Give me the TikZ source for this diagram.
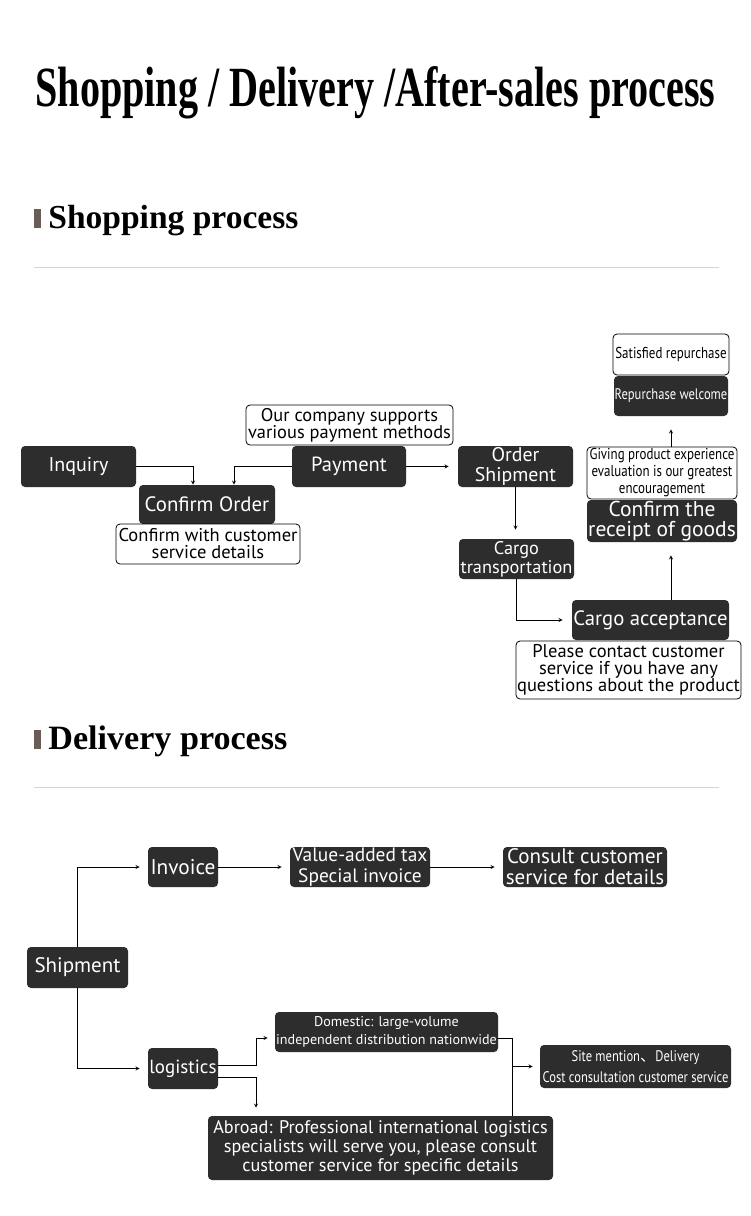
\documentclass[tikz,border=0pt]{standalone}
\usepackage{fontspec}
\usepackage{graphicx}
\newfontfamily\boxfont{PT Sans}
\newfontfamily\condfont[FakeStretch=0.82]{PT Sans}
\newfontfamily\headfont{Liberation Serif}
\newfontfamily\cjk{Noto Sans CJK SC}
\definecolor{boxgray}{RGB}{45,45,45}
\definecolor{rulegray}{RGB}{212,212,212}
\definecolor{barbrown}{RGB}{107,93,85}
\newcommand{\fs}[2]{\fontsize{#1}{#2}\selectfont}

\begin{document}
\begin{tikzpicture}[x=1pt, y=-1pt, line width=0.8pt,
    blk/.style={fill=boxgray, text=white, rounded corners=4pt, inner sep=0pt, align=center, font=\boxfont},
    note/.style={draw=black, fill=white, rounded corners=4pt, inner sep=0pt, align=center, font=\boxfont},
    sechead/.style={anchor=base west, inner sep=0pt, font=\headfont\bfseries\fs{30}{30}}]
  \fill[white] (0,0) rectangle (750,1216);
  \useasboundingbox (0,0) rectangle (750,1216);

  % title and section heads
  \node[anchor=base west, inner sep=0pt, font=\headfont\bfseries\fs{56}{56}] (title) at (35,106)
    {\resizebox{680pt}{40pt}{Shopping / Delivery /After-sales process}};
  \fill[barbrown] (34,209) rectangle (41,228);
  \node[sechead] (shophead) at (48,228) {\resizebox{250pt}{!}{Shopping process}};
  \draw[rulegray] (34,267) -- (719,267);
  \fill[barbrown] (34,730) rectangle (41,749);
  \node[sechead] (delhead) at (48,749) {\resizebox{239pt}{!}{Delivery process}};
  \draw[rulegray] (34,787) -- (719,787);

  % shopping process
  \node[blk, minimum width=115pt, minimum height=41pt, font=\boxfont\fs{20}{22}] (inquiry) at (78.5,466.5) {Inquiry};
  \node[blk, minimum width=136pt, minimum height=39pt, font=\boxfont\fs{20.8}{22}] (confirm) at (207,504.5) {Confirm Order};
  \node[note, minimum width=184pt, minimum height=40pt, font=\boxfont\fs{18.5}{17}] (cnote) at (208,544) {Confirm with customer\\service details};
  \node[blk, minimum width=114pt, minimum height=41pt, font=\boxfont\fs{20.5}{22}] (payment) at (349,466.5) {Payment};
  \node[note, minimum width=207pt, minimum height=40pt, font=\boxfont\fs{18.4}{17}] (pnote) at (349.5,425) {Our company supports\\various payment methods};
  \node[blk, minimum width=115pt, minimum height=41pt, font=\boxfont\fs{19.8}{20}] (ordership) at (515.5,466.5) {Order\\Shipment};
  \node[blk, minimum width=115pt, minimum height=40pt, font=\boxfont\fs{18.3}{19}] (cargotr) at (516.5,559) {Cargo\\transportation};
  \node[blk, minimum width=157pt, minimum height=40pt, font=\boxfont\fs{20.7}{22}] (accept) at (650.5,620) {Cargo acceptance};
  \node[note, minimum width=225pt, minimum height=58pt, font=\boxfont\fs{18.5}{17}] (anote) at (628.5,670) {Please contact customer\\service if you have any\\questions about the product};
  \node[blk, minimum width=150pt, minimum height=42pt, font=\boxfont\fs{21.5}{20}] (receipt) at (662,521) {Confirm the\\receipt of goods};
  \node[note, minimum width=150pt, minimum height=52pt, font=\condfont\fs{15.8}{17}] (gnote) at (662,473) {Giving product experience\\evaluation is our greatest\\encouragement};
  \node[blk, minimum width=114pt, minimum height=40pt, font=\condfont\fs{15.3}{18}] (rewelcome) at (671,396) {Repurchase welcome};
  \node[note, minimum width=116pt, minimum height=41pt, font=\condfont\fs{15.8}{18}] (snote) at (671,354.5) {Satisfied repurchase};

  \draw[-stealth] (inquiry.east) -| ([xshift=-14pt]confirm.north);
  \draw[-stealth] (payment.west) -| ([xshift=27pt]confirm.north);
  \draw[-stealth, shorten >=9pt] (payment.east) -- (ordership.west);
  \draw[-stealth, shorten >=9pt] (ordership.south) -- (ordership.south |- cargotr.north);
  \draw[-stealth, shorten >=9pt] (cargotr.south) |- (accept.west);
  \draw[-stealth, shorten >=13pt] (accept.north -| rewelcome) -- (receipt.south -| rewelcome);
  \draw[-stealth, shorten >=13pt] (gnote.north -| rewelcome) -- (rewelcome.south);

  % delivery process
  \node[blk, minimum width=101pt, minimum height=41pt, font=\boxfont\fs{21}{21}] (ship) at (77.5,967.5) {Shipment};
  \node[blk, minimum width=70pt, minimum height=40pt, font=\boxfont\fs{21.3}{21}] (invoice) at (183,867) {Invoice};
  \node[blk, minimum width=140pt, minimum height=40pt, font=\boxfont\fs{19.4}{21}] (vat) at (360,867) {Value-added tax\\Special invoice};
  \node[blk, minimum width=164pt, minimum height=40pt, font=\boxfont\fs{21}{21}] (consult) at (585,867) {Consult customer\\service for details};
  \node[blk, minimum width=70pt, minimum height=41pt, font=\boxfont\fs{19}{21}] (logi) at (183,1068.5) {logistics};
  \node[blk, minimum width=223pt, minimum height=40pt, font=\boxfont\fs{14.1}{18}] (domestic) at (386.5,1032) {Domestic: large-volume\\independent distribution nationwide};
  \node[blk, minimum width=191pt, minimum height=43pt, font=\condfont\fs{15.3}{21}] (site) at (635.5,1066.5) {Site mention{\cjk 、}Delivery\\Cost consultation customer service};
  \node[blk, minimum width=345pt, minimum height=64pt, font=\boxfont\fs{18.2}{19}] (abroad) at (380.5,1148) {Abroad: Professional international logistics\\specialists will serve you, please consult\\customer service for specific details};
  \coordinate (lsplit) at (256,1068.5);
  \coordinate (dsplit) at (512,1068.5);

  \draw[-stealth, shorten >=8pt] (ship.north) |- (invoice.west);
  \draw[-stealth, shorten >=8pt] (invoice.east) -- (vat.west);
  \draw[-stealth, shorten >=8pt] (vat.east) -- (consult.west);
  \draw[-stealth, shorten >=8pt] (ship.south) |- (logi.west);
  \draw[-stealth, shorten >=7pt] ([yshift=3.5pt]logi.east) -- ([yshift=3.5pt]logi.east -| lsplit) |- ([yshift=-6pt]domestic.west);
  \draw[-stealth, shorten >=8pt] ([yshift=-8.5pt]logi.east) -- ([yshift=-8.5pt]logi.east -| lsplit) -- (lsplit |- abroad.north);
  \draw ([yshift=-6pt]domestic.east) -| (dsplit |- abroad.north);
  \draw[-stealth, shorten >=7pt] (dsplit |- site.west) -- (site.west);
\end{tikzpicture}
\end{document}
